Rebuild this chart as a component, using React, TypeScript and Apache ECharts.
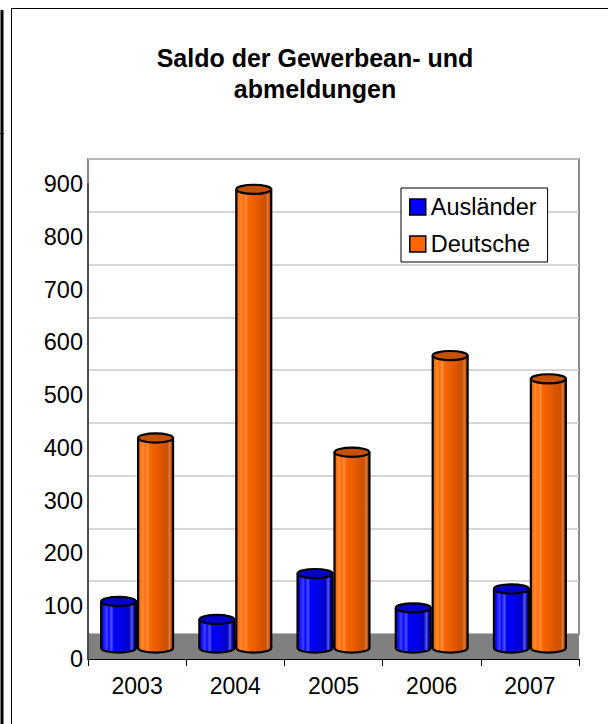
import React, { useEffect, useRef } from "react";
import * as echarts from "echarts";

// Balance of business registrations and deregistrations per year
const years = ["2003", "2004", "2005", "2006", "2007"];
const auslaender = [88, 54, 141, 76, 112];
const deutsche = [398, 869, 371, 554, 510];
const yTicks = { min: 0, max: 900, step: 100 };

const FONT = "'Liberation Sans', Arial, Helvetica, sans-serif";

// Plot layout (pixels)
const PLOT_LEFT = 88;
const PLOT_RIGHT = 579;
const WALL_TOP = 159;
const FLOOR_BACK = 634;
const FLOOR_FRONT = 659;
const LIFT = 11; // cylinders stand this far behind the front edge of the floor
const W = 608;
const H = 724;

type Palette = { stops: [number, string][]; top: string };

const orange: Palette = {
  stops: [
    [0, "#e05a00"],
    [0.06, "#ff7010"],
    [0.14, "#ff8a30"],
    [0.2, "#ff6c0a"],
    [0.28, "#ff9040"],
    [0.33, "#fa6602"],
    [0.55, "#e85c00"],
    [0.75, "#d45200"],
    [0.85, "#cc5000"],
    [0.9, "#d8804a"],
    [0.95, "#c84e00"],
    [1, "#b04400"],
  ],
  top: "#c45000",
};

const blue: Palette = {
  stops: [
    [0, "#0000d0"],
    [0.08, "#1414ff"],
    [0.16, "#4040ff"],
    [0.22, "#0808ff"],
    [0.3, "#5050ff"],
    [0.36, "#0000f8"],
    [0.6, "#0000e6"],
    [0.8, "#0000c8"],
    [0.88, "#5a5ad8"],
    [0.94, "#0000c0"],
    [1, "#0000a0"],
  ],
  top: "#0000cc",
};

function gradient(p: Palette) {
  return {
    type: "linear",
    x: 0,
    y: 0,
    x2: 1,
    y2: 0,
    colorStops: p.stops.map(([offset, color]) => ({ offset, color })),
    global: false,
  };
}

// Draws one cylinder per data item, left (-1) or right (+1) of the category centre
function cylinder(side: number, p: Palette) {
  return (_params: any, api: any) => {
    const cat = api.value(0);
    const val = api.value(1);
    const base = api.coord([cat, 0]);
    const top = api.coord([cat, val]);
    const band = api.size([1, 0])[0];
    const rx = band * 0.178;
    const cx = base[0] + side * band * 0.188;
    const yb = base[1] - LIFT;
    const yt = top[1] - LIFT;
    const ry = 4.6;
    const fill = gradient(p);
    return {
      type: "group",
      children: [
        {
          type: "ellipse",
          shape: { cx, cy: yb, rx, ry },
          style: { fill, stroke: "#000", lineWidth: 2.2 },
        },
        {
          type: "rect",
          shape: { x: cx - rx, y: yt, width: 2 * rx, height: yb - yt },
          style: { fill },
        },
        {
          type: "line",
          shape: { x1: cx - rx, y1: yt, x2: cx - rx, y2: yb },
          style: { stroke: "#000", lineWidth: 2.2 },
        },
        {
          type: "line",
          shape: { x1: cx + rx, y1: yt, x2: cx + rx, y2: yb },
          style: { stroke: "#000", lineWidth: 2.2 },
        },
        {
          type: "ellipse",
          shape: { cx, cy: yt, rx, ry },
          style: { fill: p.top, stroke: "#000", lineWidth: 2.2 },
        },
      ],
    };
  };
}

export default function App() {
  const ref = useRef<HTMLDivElement>(null);

  useEffect(() => {
    if (!ref.current) return;
    const chart = echarts.init(ref.current, undefined, { renderer: "svg" });

    const gridRight = W - PLOT_RIGHT;
    const plotHeight = FLOOR_BACK - WALL_TOP;

    chart.setOption({
      animation: false,
      backgroundColor: "#ffffff",
      title: {
        text: "Saldo der Gewerbean- und\nabmeldungen",
        left: 310,
        top: 37,
        textAlign: "center",
        textStyle: {
          fontFamily: FONT,
          fontWeight: "bold",
          fontSize: 25,
          lineHeight: 31,
          color: "#000",
        },
      },
      legend: {
        orient: "vertical",
        left: 401,
        top: 188,
        padding: [7, 11, 6, 8],
        itemGap: 13,
        itemWidth: 16,
        itemHeight: 16,
        backgroundColor: "#fff",
        borderColor: "#000",
        borderWidth: 1,
        borderRadius: 0,
        icon: "rect",
        itemStyle: { borderColor: "#000", borderWidth: 1.5 },
        textStyle: {
          fontFamily: FONT,
          fontSize: 23.5,
          lineHeight: 23,
          color: "#000",
        },
        data: ["Ausländer", "Deutsche"],
      },
      grid: [
        // back wall
        {
          left: PLOT_LEFT,
          right: gridRight,
          top: WALL_TOP,
          height: plotHeight,
          show: true,
          backgroundColor: "#fff",
          borderColor: "#8a8a8a",
          borderWidth: 2,
        },
        // front plane: labels and cylinders
        {
          left: PLOT_LEFT,
          right: gridRight,
          top: WALL_TOP + (FLOOR_FRONT - FLOOR_BACK),
          height: plotHeight,
          show: false,
        },
      ],
      xAxis: [
        {
          gridIndex: 0,
          type: "category",
          data: years,
          show: false,
        },
        {
          gridIndex: 1,
          type: "category",
          data: years,
          z: 4,
          axisLine: { show: true, lineStyle: { color: "#000", width: 1 } },
          axisTick: { show: true, length: 7, lineStyle: { color: "#000" } },
          axisLabel: {
            fontFamily: FONT,
            fontSize: 23,
            color: "#000",
            margin: 15,
          },
        },
      ],
      yAxis: [
        {
          gridIndex: 0,
          type: "value",
          min: yTicks.min,
          max: yTicks.max,
          interval: yTicks.step,
          axisLine: { show: false },
          axisTick: { show: false },
          axisLabel: { show: false },
          splitLine: { show: true, lineStyle: { color: "#c8c8c8", width: 1.5 } },
        },
        {
          gridIndex: 1,
          type: "value",
          min: yTicks.min,
          max: yTicks.max,
          interval: yTicks.step,
          z: 4,
          axisLine: { show: true, lineStyle: { color: "#4a4a4a", width: 2 } },
          axisTick: { show: false },
          splitLine: { show: false },
          axisLabel: {
            fontFamily: FONT,
            fontSize: 23.5,
            color: "#000",
            margin: 5,
          },
        },
      ],
      graphic: [
        // floor of the 3D plot
        {
          type: "rect",
          z: 1,
          shape: {
            x: PLOT_LEFT,
            y: FLOOR_BACK,
            width: PLOT_RIGHT - PLOT_LEFT,
            height: FLOOR_FRONT - FLOOR_BACK,
          },
          style: { fill: "#808080" },
        },
        // page frame
        {
          type: "line",
          z: 10,
          shape: { x1: 11.5, y1: 8, x2: 11.5, y2: H },
          style: { stroke: "#000", lineWidth: 1 },
        },
        {
          type: "line",
          z: 10,
          shape: { x1: 11, y1: 8.5, x2: W, y2: 8.5 },
          style: { stroke: "#000", lineWidth: 1 },
        },
        {
          type: "line",
          z: 10,
          shape: { x1: 2, y1: 10, x2: 2, y2: H },
          style: { stroke: "#000", lineWidth: 3 },
        },
        {
          type: "line",
          z: 10,
          shape: { x1: 0, y1: 133.5, x2: 4, y2: 133.5 },
          style: { stroke: "#000", lineWidth: 1 },
        },
      ],
      series: [
        {
          name: "Ausländer",
          type: "custom",
          xAxisIndex: 1,
          yAxisIndex: 1,
          z: 5,
          clip: false,
          itemStyle: { color: "#0000ff" },
          encode: { x: 0, y: 1 },
          data: years.map((_, i) => [i, auslaender[i]]),
          renderItem: cylinder(-1, blue),
        },
        {
          name: "Deutsche",
          type: "custom",
          xAxisIndex: 1,
          yAxisIndex: 1,
          z: 5,
          clip: false,
          itemStyle: { color: "#ff6600" },
          encode: { x: 0, y: 1 },
          data: years.map((_, i) => [i, deutsche[i]]),
          renderItem: cylinder(1, orange),
        },
      ],
    });

    return () => chart.dispose();
  }, []);

  return (
    <div style={{ position: "absolute", left: 0, top: 0, width: W, height: H, background: "#fff" }}>
      <div ref={ref} style={{ width: W, height: H }} />
    </div>
  );
}
